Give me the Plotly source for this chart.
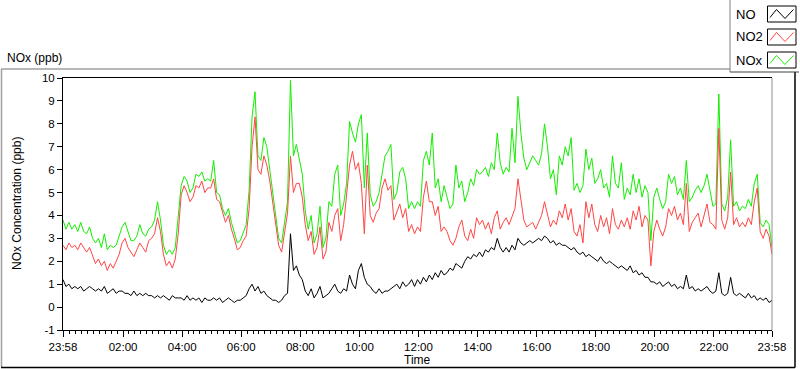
import pandas as pd
import plotly.graph_objects as go

START = "2024-01-01 23:58"
N_POINTS = 241
STEP = "6min"

no_vals = [
    1.2, 0.9, 1.0, 0.8, 0.9, 0.8, 0.9, 0.7, 0.8, 0.9,
    0.8, 0.7, 0.8, 0.7, 0.9, 0.6, 0.7, 0.8, 0.6, 0.7,
    0.7, 0.6, 0.6, 0.5, 0.7, 0.5, 0.6, 0.5, 0.6, 0.5,
    0.5, 0.4, 0.5, 0.4, 0.5, 0.4, 0.3, 0.5, 0.4, 0.4,
    0.4, 0.3, 0.5, 0.3, 0.4, 0.3, 0.4, 0.2, 0.4, 0.3,
    0.3, 0.4, 0.3, 0.4, 0.2, 0.3, 0.4, 0.3, 0.2, 0.3,
    0.3, 0.4, 0.5, 0.8, 1.0, 0.7, 0.9, 0.6, 0.7, 0.5,
    0.4, 0.3, 0.3, 0.2, 0.3, 0.5, 0.6, 3.2, 1.6, 1.8,
    1.4, 1.2, 0.7, 0.5, 0.8, 0.4, 0.6, 0.9, 0.4, 0.5,
    0.6, 0.8, 1.0, 0.7, 0.6, 0.8, 0.7, 1.4, 1.0, 0.8,
    1.6, 1.9, 1.3, 1.0, 0.9, 0.7, 0.6, 0.8, 0.6, 0.7,
    0.7, 0.8, 0.9, 1.0, 0.8, 1.1, 0.9, 1.0, 1.2, 0.9,
    1.2, 1.0, 1.3, 1.1, 1.4, 1.2, 1.5, 1.3, 1.6, 1.4,
    1.5, 1.7, 1.6, 1.9, 1.8, 1.7, 2.0, 2.2, 2.1, 2.3,
    2.2, 2.4, 2.2, 2.5, 2.4, 2.6, 2.5, 3.0, 2.6, 2.4,
    2.6, 2.4, 2.7, 2.5, 3.0, 2.8, 2.7, 2.8, 2.9, 2.8,
    2.9, 3.0, 2.9, 3.1, 3.0, 2.8, 2.9, 2.7, 2.8, 2.7,
    2.7, 2.6, 2.5, 2.6, 2.4, 2.3, 2.4, 2.2, 2.3, 2.2,
    2.1, 2.0, 2.2, 2.0, 1.9, 2.0, 1.9, 1.8, 1.7, 1.8,
    1.7, 1.6, 1.8, 1.5, 1.6, 1.4, 1.5, 1.3, 1.3, 1.1,
    1.1, 1.0, 1.1, 0.9, 1.0, 1.1, 0.9, 1.0, 0.8, 0.9,
    0.8, 1.4, 0.8, 0.9, 0.7, 0.8, 0.7, 0.8, 0.9, 0.7,
    0.6, 0.7, 1.5, 0.6, 0.5, 0.6, 1.3, 0.6, 0.5, 0.6,
    0.5, 0.4, 0.6, 0.4, 0.5, 0.3, 0.4, 0.3, 0.4, 0.2, 0.3,
]

no2_vals = [
    2.7, 2.5, 2.8, 2.6, 2.7, 2.5, 2.8, 2.6, 2.4, 2.6,
    2.2, 1.9, 2.1, 1.8, 2.0, 1.6, 1.9, 1.7, 2.0, 2.3,
    2.8, 3.0, 2.6, 2.4, 2.2, 2.5, 2.8, 2.6, 2.4, 2.9,
    3.0, 3.2, 3.9, 3.3, 2.3, 1.8, 2.0, 1.7, 2.1, 3.2,
    4.9, 5.3, 5.0, 4.6, 4.8, 5.3, 5.2, 5.5, 5.0, 5.2,
    5.2, 5.6, 4.7, 4.6, 4.1, 3.7, 4.0, 3.4, 3.0, 2.5,
    2.6, 2.9, 3.1, 4.3, 7.0, 8.3, 6.0, 5.8, 6.6, 6.2,
    5.5, 4.6, 3.6, 2.7, 2.4, 3.3, 4.1, 6.6, 5.0, 5.4,
    5.4, 4.8, 3.6, 2.9, 3.3, 2.3, 2.6, 3.5, 2.1, 2.4,
    3.7, 3.3, 4.0, 4.3, 2.9, 3.6, 5.0, 6.2, 6.8, 6.0,
    6.3, 5.4, 3.2, 6.2, 4.0, 3.7, 4.1, 4.3, 5.2, 5.6,
    5.1, 5.3, 3.8, 4.2, 4.5, 3.9, 4.3, 3.3, 3.6, 3.2,
    3.5, 3.3, 4.8, 5.5, 4.6, 4.6, 4.0, 4.4, 3.3, 3.5,
    3.3, 2.9, 2.7, 3.0, 3.5, 3.8, 3.1, 2.9, 3.4, 3.0,
    3.9, 3.6, 3.8, 3.4, 3.7, 3.2, 3.9, 4.2, 3.4, 3.7,
    3.9, 3.6, 4.0, 4.3, 5.6, 4.6, 3.8, 3.5, 3.6, 3.7,
    3.4, 3.7, 4.0, 4.6, 4.1, 3.5, 3.8, 3.6, 4.2, 3.9,
    4.5, 3.8, 4.3, 3.3, 3.1, 3.6, 2.8, 4.6, 3.9, 4.5,
    3.6, 3.3, 4.0, 3.5, 3.9, 3.2, 4.3, 3.6, 3.4, 3.8,
    3.5, 3.9, 3.4, 4.2, 3.8, 4.4, 3.5, 4.0, 3.8, 1.8,
    3.3, 3.8, 3.4, 3.1, 3.5, 4.3, 4.0, 4.4, 3.8, 4.1,
    3.6, 5.4, 3.3, 3.7, 3.9, 4.1, 3.5, 4.0, 4.5, 3.7,
    3.6, 3.4, 7.8, 3.8, 3.4, 3.9, 5.9, 3.6, 3.9, 3.5,
    3.7, 3.5, 3.9, 3.6, 4.6, 5.2, 3.3, 3.0, 3.4, 3.1, 2.3,
]

nox_vals = [
    3.8, 3.4, 3.7, 3.4, 3.6, 3.3, 3.7, 3.3, 3.2, 3.5,
    3.0, 2.8, 3.0, 2.6, 3.2, 2.5, 2.7, 2.6, 2.7, 3.1,
    3.5, 3.7, 3.3, 2.9, 2.9, 3.1, 3.6, 3.2, 3.1, 3.4,
    3.5, 3.8, 4.6, 3.8, 2.7, 2.3, 2.5, 2.3, 2.6, 3.8,
    5.3, 5.7, 5.5, 5.0, 5.2, 5.8, 5.7, 5.9, 5.5, 5.6,
    5.5, 6.4, 5.0, 4.9, 4.3, 4.0, 4.3, 3.7, 3.2, 2.8,
    2.9, 3.3, 3.6, 5.1, 8.3, 9.4, 6.6, 6.4, 7.4, 7.0,
    6.0, 5.0, 4.0, 3.0, 2.8, 3.8, 4.6, 9.9, 6.6, 7.1,
    6.5, 5.8, 4.2, 3.4, 4.0, 2.8, 3.2, 4.4, 2.6, 3.0,
    4.6, 4.4, 5.8, 6.2, 4.0, 4.5, 5.4, 8.1, 7.6, 7.2,
    8.0, 8.4, 5.2, 7.6, 4.9, 4.4, 4.6, 5.0, 5.8, 6.6,
    6.8, 7.1, 4.7, 5.0, 5.9, 6.1, 5.6, 4.3, 4.6, 4.3,
    4.6, 4.4, 6.4, 6.8, 6.2, 7.6, 5.2, 5.6, 4.6, 5.3,
    4.8, 4.3, 4.5, 6.2, 5.2, 5.5, 4.6, 5.0, 5.6, 5.3,
    6.0, 5.8, 5.9, 6.1, 5.7, 6.3, 6.0, 7.6, 6.3, 5.8,
    6.1, 5.9, 7.8, 6.3, 9.2, 7.6, 6.5, 6.0, 6.3, 6.6,
    6.4, 6.2, 6.7, 8.0, 7.0, 5.6, 6.0, 4.9, 6.6, 6.2,
    7.0, 6.6, 7.4, 5.1, 5.4, 5.0, 5.3, 6.9, 6.0, 6.5,
    5.4, 5.6, 6.0, 5.2, 5.4, 4.8, 6.6, 5.4, 5.2, 6.3,
    4.7, 5.2, 4.9, 5.8, 5.0, 5.6, 4.8, 5.3, 5.0, 2.9,
    4.8, 5.2, 4.7, 4.3, 4.6, 5.8, 5.4, 5.7, 4.9, 5.2,
    4.7, 6.4, 4.6, 4.8, 5.1, 5.3, 5.0, 5.3, 5.8, 5.0,
    4.4, 4.5, 9.3, 4.5, 4.2, 4.8, 7.3, 4.4, 4.6, 4.2,
    4.4, 4.3, 4.7, 4.4, 5.4, 5.8, 3.7, 3.5, 3.8, 3.6, 2.6,
]

x_tick_vals = [
    "2024-01-01 23:58", "2024-01-02 02:00", "2024-01-02 04:00", "2024-01-02 06:00",
    "2024-01-02 08:00", "2024-01-02 10:00", "2024-01-02 12:00", "2024-01-02 14:00",
    "2024-01-02 16:00", "2024-01-02 18:00", "2024-01-02 20:00", "2024-01-02 22:00",
    "2024-01-02 23:58",
]
x_tick_text = ["23:58", "02:00", "04:00", "06:00", "08:00", "10:00", "12:00",
               "14:00", "16:00", "18:00", "20:00", "22:00", "23:58"]
y_tick_vals = [-1, 0, 1, 2, 3, 4, 5, 6, 7, 8, 9, 10]
y_tick_text = ["-1", "0", "1", "2", "3", "4", "5", "6", "7", "8", "9", "10"]

series_names = ["NO", "NO2", "NOx"]
series_colors = ["#000000", "#ff4545", "#14ee00"]

times = pd.date_range(START, periods=N_POINTS, freq=STEP)

W, H = 800, 369
L, R, T, B = 63, 772, 78, 330  # plot area in pixels

def px(xp):
    return (xp - L) / (R - L)

def py(yp):
    return (B - yp) / (B - T)

FONT = "Liberation Sans"

fig = go.Figure()
for name, vals, col in [("NOx", nox_vals, series_colors[2]),
                        ("NO2", no2_vals, series_colors[1]),
                        ("NO", no_vals, series_colors[0])]:
    fig.add_trace(go.Scatter(x=times, y=vals, mode="lines", name=name,
                             line=dict(color=col, width=1), showlegend=False))

shapes = []
annotations = []

# outer graph frame (3D look): gray top/left, black bottom/right
shapes.append(dict(type="line", xref="paper", yref="paper", x0=px(1), x1=px(730), y0=py(69), y1=py(69),
                   line=dict(color="#a0a0a0", width=1.5)))
shapes.append(dict(type="line", xref="paper", yref="paper", x0=px(1.5), x1=px(1.5), y0=py(69), y1=py(367),
                   line=dict(color="#a0a0a0", width=1.5)))
shapes.append(dict(type="line", xref="paper", yref="paper", x0=px(1), x1=px(795), y0=py(367.5), y1=py(367.5),
                   line=dict(color="#000000", width=1.5)))
shapes.append(dict(type="line", xref="paper", yref="paper", x0=px(795), x1=px(795), y0=py(72), y1=py(367.5),
                   line=dict(color="#000000", width=1.5)))
# right border of plot area (gray)
shapes.append(dict(type="line", xref="paper", yref="paper", x0=1, x1=1, y0=0, y1=1,
                   line=dict(color="#909090", width=1)))

# legend box
shapes.append(dict(type="rect", xref="paper", yref="paper", x0=px(730), x1=px(799), y0=py(72), y1=py(-1),
                   line=dict(width=0), fillcolor="#ffffff", layer="above"))
shapes.append(dict(type="line", xref="paper", yref="paper", x0=px(730), x1=px(730), y0=py(72), y1=py(0),
                   line=dict(color="#808080", width=1)))
shapes.append(dict(type="line", xref="paper", yref="paper", x0=px(730), x1=px(799), y0=py(72), y1=py(72),
                   line=dict(color="#404040", width=1)))

legend_rows = [14, 37, 60]
for name, col, yc in zip(series_names, series_colors, legend_rows):
    annotations.append(dict(xref="paper", yref="paper", x=px(734), y=py(yc), text=name,
                            showarrow=False, xanchor="left", yanchor="middle",
                            font=dict(family=FONT, size=13, color="#000000")))
    shapes.append(dict(type="rect", xref="paper", yref="paper", x0=px(767.5), x1=px(796), y0=py(yc + 8), y1=py(yc - 8),
                       line=dict(color="#000000", width=1), fillcolor="#ffffff", layer="above"))
    pts = [(770, yc + 3.5), (776.5, yc - 4.5), (785, yc + 4.5), (793.5, yc - 4.5)]
    path = "M " + " L ".join(f"{px(a):.5f},{py(b):.5f}" for a, b in pts)
    shapes.append(dict(type="path", xref="paper", yref="paper", path=path,
                       line=dict(color=col, width=1), layer="above"))

annotations.append(dict(xref="paper", yref="paper", x=px(5), y=py(58), text="NOx (ppb)",
                        showarrow=False, xanchor="left", yanchor="middle",
                        font=dict(family=FONT, size=12, color="#000000")))
# axis titles placed explicitly
annotations.append(dict(xref="paper", yref="paper", x=0.5, y=py(360), text="Time",
                        showarrow=False, xanchor="center", yanchor="middle",
                        font=dict(family=FONT, size=12, color="#000000")))
annotations.append(dict(xref="paper", yref="paper", x=px(17), y=0.5, text="NOx Concentration (ppb)",
                        showarrow=False, xanchor="center", yanchor="middle", textangle=-90,
                        font=dict(family=FONT, size=12, color="#000000")))

fig.update_layout(
    width=W, height=H,
    margin=dict(l=L, r=W - R, t=T, b=H - B, pad=0),
    paper_bgcolor="#ffffff", plot_bgcolor="#ffffff",
    font=dict(family=FONT, size=11, color="#000000"),
    shapes=shapes, annotations=annotations,
    showlegend=False,
)
fig.update_xaxes(
    automargin=False,
    range=[x_tick_vals[0], x_tick_vals[-1]],
    tickmode="array", tickvals=x_tick_vals, ticktext=x_tick_text,
    ticks="outside", ticklen=6, tickwidth=1, tickcolor="#000000",
    showgrid=False, zeroline=False,
    showline=True, linecolor="#000000", linewidth=1, mirror=True,
    minor=dict(ticks="outside", ticklen=3, tickcolor="#000000", dtick=12 * 60 * 1000,
               tick0="2024-01-02 00:00", showgrid=False),
    tickfont=dict(family=FONT, size=11.5),
)
fig.update_yaxes(
    automargin=False,
    range=[-1, 10],
    tickmode="array", tickvals=y_tick_vals, ticktext=y_tick_text,
    ticks="outside", ticklen=5, tickwidth=1, tickcolor="#000000",
    showgrid=False, zeroline=False,
    showline=True, linecolor="#000000", linewidth=1,
    tickfont=dict(family=FONT, size=11.5),
)

fig.write_html(
    "out.html",
    config={"displayModeBar": False},
    post_script="document.body.style.margin='0';document.body.style.padding='0';",
)
